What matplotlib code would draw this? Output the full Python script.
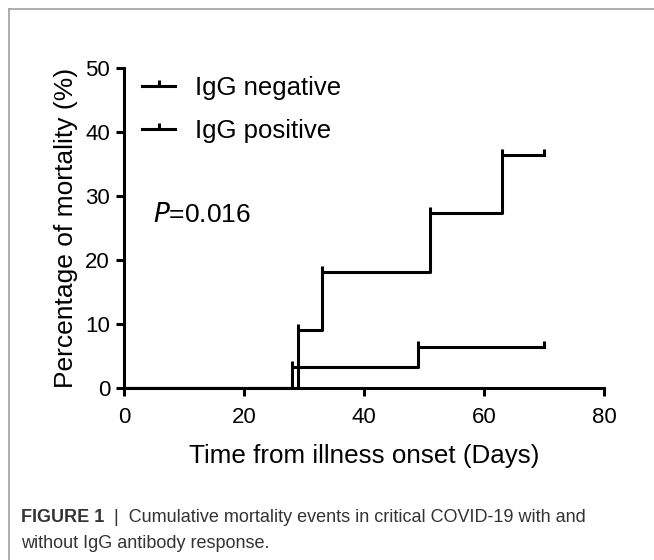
import matplotlib
matplotlib.use("Agg")
import matplotlib.pyplot as plt
from matplotlib.path import Path
from matplotlib.lines import Line2D

plt.rcParams['font.family'] = ['Liberation Sans', 'DejaVu Sans']

# Data
neg_days = [0, 29, 33, 51, 63, 70]
neg_mort = [0, 9.09, 18.18, 27.27, 36.36, 36.36]
pos_days = [0, 28, 49, 70]
pos_mort = [0, 3.23, 6.45, 6.45]
neg_censor_days = [29, 33, 51, 63, 70]
neg_censor_mort = [9.09, 18.18, 27.27, 36.36, 36.36]
pos_censor_days = [28, 49, 70]
pos_censor_mort = [3.23, 6.45, 6.45]
labels = ['IgG negative', 'IgG positive']
xticks = [0, 20, 40, 60, 80]
yticks = [0, 10, 20, 30, 40, 50]

W, H = 654, 560
fig = plt.figure(figsize=(W / 100, H / 100), dpi=100)
ax = fig.add_axes([124 / W, 1 - 388 / H, 480 / W, 320 / H])

lw = 2.2
tick = Path([(0, 0), (0, 1)], [Path.MOVETO, Path.LINETO])

ax.step(neg_days, neg_mort, where='post', color='black', lw=lw)
ax.step(pos_days, pos_mort, where='post', color='black', lw=lw)
ax.plot(neg_censor_days, neg_censor_mort, ls='none', marker=tick, ms=9, mew=lw, color='black')
ax.plot(pos_censor_days, pos_censor_mort, ls='none', marker=tick, ms=9, mew=lw, color='black')

ax.set_xlim(0, 80)
ax.set_ylim(0, 50)
ax.set_xticks(xticks)
ax.set_yticks(yticks)
for s in ['top', 'right']:
    ax.spines[s].set_visible(False)
for s in ['left', 'bottom']:
    ax.spines[s].set_linewidth(lw)
ax.tick_params(direction='out', length=6, width=lw, labelsize=16)
ax.tick_params(axis='x', pad=8)
ax.tick_params(axis='y', pad=4)
ax.set_xlabel('Time from illness onset (Days)', fontsize=18.7, labelpad=11)
ax.set_ylabel('Percentage of mortality (%)', fontsize=19, labelpad=5)

handles = [Line2D([], [], color='black', lw=lw, marker=tick, ms=9, mew=lw) for _ in labels]
ax.legend(handles, labels, loc='upper left', bbox_to_anchor=(0.0375, 0.975), frameon=False,
          fontsize=18.5, handlelength=1.3, handletextpad=0.75, labelspacing=0.75,
          borderpad=0, borderaxespad=0)

ax.text(4.8, 27, r'$\it{P}$=0.016', fontsize=19, va='center', ha='left')

# frame around the figure panel
frame_col = '#a0a0a0'
fig.add_artist(Line2D([9 / W, 9 / W], [0, 1 - 9 / H], color=frame_col, lw=1.2, transform=fig.transFigure))
fig.add_artist(Line2D([9 / W, 1], [1 - 9 / H, 1 - 9 / H], color=frame_col, lw=1.2, transform=fig.transFigure))

# caption
cap_font = ['Liberation Sans Narrow', 'Liberation Sans', 'DejaVu Sans']
t1 = fig.text(21 / W, 1 - 522 / H, 'FIGURE 1', fontsize=13, fontweight='bold', color='#333333', family=cap_font)
fig.canvas.draw()
bb = t1.get_window_extent()
fig.text(bb.x1 / W, 1 - 522 / H, '  |  Cumulative mortality events in critical COVID-19 with and',
         fontsize=13, color='#333333', family=cap_font)
fig.text(21 / W, 1 - 548 / H, 'without IgG antibody response.', fontsize=13, color='#333333', family=cap_font)

fig.savefig('out.png', dpi=100)
